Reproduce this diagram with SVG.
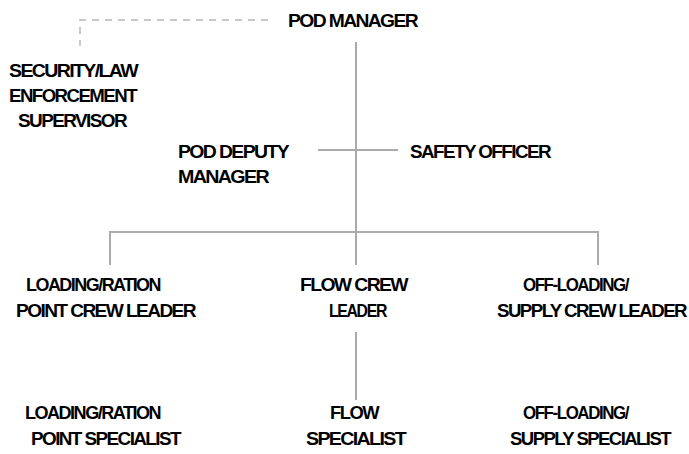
<svg xmlns="http://www.w3.org/2000/svg" width="689" height="454" viewBox="0 0 689 454">
<style>
text{font-family:"Liberation Sans",Arial,sans-serif;font-size:18px;font-weight:bold;fill:#000;letter-spacing:-1.5px}
.c{stroke:#ababab;stroke-width:2;fill:none}
.d{stroke:#c8c8c8;stroke-width:2;fill:none;stroke-dasharray:7 6}
</style>
<rect width="689" height="454" fill="#fff"/>
<g id="connectors">
<path class="d" d="M268 20H80V46"/>
<path class="c" d="M356 42V232M318 150H398M110 265V232H598V265M356 232V265M356 332V400"/>
</g>
<g id="pod-manager"><text x="288" y="27" textLength="129" lengthAdjust="spacingAndGlyphs">POD MANAGER</text></g>
<g id="security"><text x="9" y="77" textLength="128" lengthAdjust="spacingAndGlyphs">SECURITY/LAW</text><text x="9" y="102" textLength="127" lengthAdjust="spacingAndGlyphs">ENFORCEMENT</text><text x="18" y="127" textLength="108" lengthAdjust="spacingAndGlyphs">SUPERVISOR</text></g>
<g id="deputy"><text x="178" y="158" textLength="110" lengthAdjust="spacingAndGlyphs">POD DEPUTY</text><text x="178" y="183" textLength="90" lengthAdjust="spacingAndGlyphs">MANAGER</text></g>
<g id="safety"><text x="410" y="158" textLength="140" lengthAdjust="spacingAndGlyphs">SAFETY OFFICER</text></g>
<g id="loading-leader"><text x="26" y="291" textLength="134" lengthAdjust="spacingAndGlyphs">LOADING/RATION</text><text x="16" y="317" textLength="179" lengthAdjust="spacingAndGlyphs">POINT CREW LEADER</text></g>
<g id="flow-leader"><text x="300" y="291" textLength="107" lengthAdjust="spacingAndGlyphs">FLOW CREW</text><text x="329" y="317" textLength="57" lengthAdjust="spacingAndGlyphs">LEADER</text></g>
<g id="offloading-leader"><text x="523" y="291" textLength="105" lengthAdjust="spacingAndGlyphs">OFF-LOADING/</text><text x="497" y="317" textLength="189" lengthAdjust="spacingAndGlyphs">SUPPLY CREW LEADER</text></g>
<g id="loading-specialist"><text x="25" y="419" textLength="135" lengthAdjust="spacingAndGlyphs">LOADING/RATION</text><text x="31" y="445" textLength="149" lengthAdjust="spacingAndGlyphs">POINT SPECIALIST</text></g>
<g id="flow-specialist"><text x="330" y="419" textLength="48" lengthAdjust="spacingAndGlyphs">FLOW</text><text x="306" y="445" textLength="99" lengthAdjust="spacingAndGlyphs">SPECIALIST</text></g>
<g id="offloading-specialist"><text x="523" y="419" textLength="105" lengthAdjust="spacingAndGlyphs">OFF-LOADING/</text><text x="510" y="445" textLength="160" lengthAdjust="spacingAndGlyphs">SUPPLY SPECIALIST</text></g>
</svg>
